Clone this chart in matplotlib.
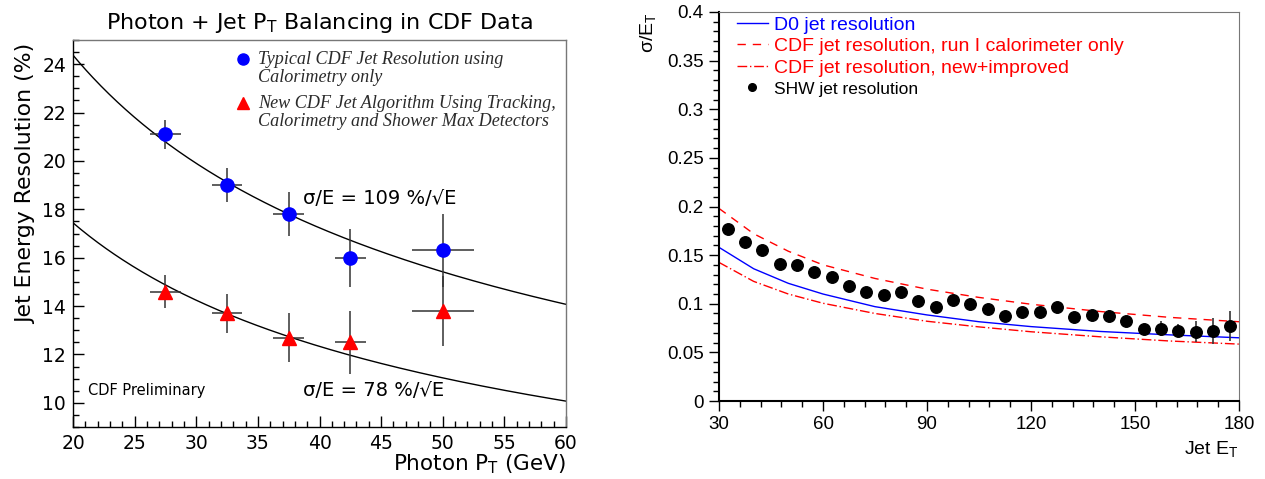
import numpy as np
import matplotlib
matplotlib.use("Agg")
import matplotlib.pyplot as plt
from matplotlib.ticker import MultipleLocator, FormatStrFormatter

# --- left panel: photon + jet balancing ---
pt_bins = [27.5, 32.5, 37.5, 42.5, 50.0]
pt_halfwidth = [1.25, 1.25, 1.25, 1.25, 2.5]
calo_res = [21.1, 19.0, 17.8, 16.0, 16.3]
calo_err = [0.6, 0.7, 0.9, 1.2, 1.5]
track_res = [14.6, 13.7, 12.7, 12.5, 13.8]
track_err = [0.7, 0.8, 1.0, 1.3, 1.45]
fit_coeff = [109, 78]          # sigma/E = a %/sqrt(E), as written on the plot
fit_range = [20, 60]

# --- right panel: jet resolution vs jet ET ---
curve_et = [30, 40, 50, 60, 75, 90, 105, 120, 140, 160, 180]
d0_res = [0.158, 0.136, 0.121, 0.110, 0.097, 0.0885, 0.0815, 0.0765, 0.0715, 0.068, 0.065]
cdf_run1_res = [0.198, 0.172, 0.154, 0.140, 0.126, 0.115, 0.1065, 0.0995, 0.092, 0.086, 0.0815]
cdf_new_res = [0.1425, 0.123, 0.110, 0.1005, 0.090, 0.082, 0.0762, 0.0712, 0.066, 0.0617, 0.0585]

shw_et = [32.5, 37.5, 42.5, 47.5, 52.5, 57.5, 62.5, 67.5, 72.5, 77.5,
          82.5, 87.5, 92.5, 97.5, 102.5, 107.5, 112.5, 117.5, 122.5, 127.5,
          132.5, 137.5, 142.5, 147.5, 152.5, 157.5, 162.5, 167.5, 172.5, 177.5]
shw_res = [0.177, 0.163, 0.155, 0.1405, 0.1395, 0.133, 0.127, 0.118, 0.112, 0.109,
           0.112, 0.1025, 0.097, 0.104, 0.100, 0.0946, 0.0877, 0.0912, 0.0912, 0.0967,
           0.0867, 0.0884, 0.0874, 0.0826, 0.0744, 0.0744, 0.0723, 0.0713, 0.0723, 0.0775]
shw_err = [0.003, 0.003, 0.003, 0.003, 0.003, 0.003, 0.003, 0.003, 0.003, 0.003,
           0.003, 0.003, 0.003, 0.003, 0.003, 0.003, 0.003, 0.003, 0.003, 0.004,
           0.004, 0.004, 0.006, 0.005, 0.005, 0.008, 0.0067, 0.011, 0.0132, 0.0154]

W, H = 1265, 479
fig = plt.figure(figsize=(W / 100, H / 100), dpi=100)
ax1 = fig.add_axes([73 / W, 1 - 427 / H, 493 / W, 387 / H])
ax2 = fig.add_axes([719 / W, 1 - 401 / H, 520 / W, 389 / H])

# ================= LEFT =================
sans = "DejaVu Sans"
serif = "Liberation Serif"

ax1.errorbar(pt_bins, calo_res, xerr=pt_halfwidth, yerr=calo_err, fmt="none",
             ecolor="#333333", elinewidth=1.1, capsize=0, zorder=2)
ax1.errorbar(pt_bins, track_res, xerr=pt_halfwidth, yerr=track_err, fmt="none",
             ecolor="#333333", elinewidth=1.1, capsize=0, zorder=2)
ax1.plot(pt_bins, calo_res, "o", color="#0000ff", markersize=9.5, zorder=3)
ax1.plot(pt_bins, track_res, "^", color="#ff0000", markersize=9.5, zorder=3)

pt_fine = np.linspace(fit_range[0], fit_range[1], 300)
for a in fit_coeff:
    ax1.plot(pt_fine, a / np.sqrt(pt_fine), color="black", lw=1.0, zorder=1)

ax1.set_xlim(20, 60)
ax1.set_ylim(9, 25)
ax1.xaxis.set_major_locator(MultipleLocator(5))
ax1.xaxis.set_minor_locator(MultipleLocator(1))
ax1.yaxis.set_major_locator(MultipleLocator(2))
ax1.yaxis.set_minor_locator(MultipleLocator(0.5))
ax1.tick_params(which="both", direction="in", top=False, right=False,
                labelsize=13.5, width=1.0)
ax1.tick_params(which="major", length=8, pad=5)
ax1.tick_params(which="minor", length=4)
for lab in ax1.get_xticklabels() + ax1.get_yticklabels():
    lab.set_family(sans)
for s in ["top", "right"]:
    ax1.spines[s].set_color("#777777")
for s in ax1.spines.values():
    s.set_linewidth(1.0)

ax1.set_title(r"Photon + Jet P$_\mathregular{T}$ Balancing in CDF Data",
              fontsize=16, family=sans, pad=8)
ax1.set_xlabel(r"Photon P$_\mathregular{T}$ (GeV)", fontsize=15.5, family=sans,
               ha="right")
ax1.xaxis.set_label_coords(1.0, -0.066)
ax1.set_ylabel("Jet Energy Resolution (%)", fontsize=15.8, family=sans, ha="right")
ax1.yaxis.set_label_coords(-0.075, 0.99)

# legend (ROOT style: symbol next to the first line of text)
leg_x, leg_sym_x = 0.375, 0.345
leg_font = dict(transform=ax1.transAxes, family=serif, style="italic",
                fontsize=13.1, va="top", ha="left", linespacing=1.1,
                color="#2a2a2a")
ax1.plot([leg_sym_x], [0.951], "o", color="#0000ff", markersize=8,
         transform=ax1.transAxes, clip_on=False)
ax1.text(leg_x, 0.972, "Typical CDF Jet Resolution using\nCalorimetry only",
         **leg_font)
ax1.plot([leg_sym_x], [0.837], "^", color="#ff0000", markersize=8,
         transform=ax1.transAxes, clip_on=False)
ax1.text(leg_x, 0.858,
         "New CDF Jet Algorithm Using Tracking,\nCalorimetry and Shower Max Detectors",
         **leg_font)

ax1.text(38.7, 18.45, "σ/E = 109 %/√E", fontsize=14, family=sans, va="center")
ax1.text(38.7, 10.5, "σ/E = 78 %/√E", fontsize=14, family=sans, va="center")
ax1.text(21.2, 10.5, "CDF Preliminary", fontsize=10.5, family=sans, va="center")

# ================= RIGHT =================
helv = ["Liberation Sans Narrow", "Liberation Sans"]

l_d0, = ax2.plot(curve_et, d0_res, color="#0000ff", lw=1.0)
l_run1, = ax2.plot(curve_et, cdf_run1_res, color="#ff0000", lw=1.0,
                   dashes=(6, 5))
l_new, = ax2.plot(curve_et, cdf_new_res, color="#ff0000", lw=1.0,
                  dashes=(7, 2, 1, 2))
ax2.errorbar(shw_et, shw_res, yerr=shw_err, fmt="o", color="black",
             markersize=8.3, ecolor="#333333", elinewidth=1.2, capsize=0)
l_shw, = ax2.plot([], [], "o", color="black", markersize=5.5)

ax2.set_xlim(30, 180)
ax2.set_ylim(0, 0.4)
ax2.xaxis.set_major_locator(MultipleLocator(30))
ax2.xaxis.set_minor_locator(MultipleLocator(6))
ax2.yaxis.set_major_locator(MultipleLocator(0.05))
ax2.yaxis.set_minor_locator(MultipleLocator(0.01))
ax2.yaxis.set_major_formatter(FormatStrFormatter("%g"))
ax2.tick_params(which="both", direction="out", top=False, right=False,
                labelsize=13.5, width=1.0)
ax2.tick_params(which="major", length=7, pad=4)
ax2.tick_params(which="minor", length=4)
for lab in ax2.get_xticklabels() + ax2.get_yticklabels():
    lab.set_family("Liberation Sans")
for s in ["top", "right"]:
    ax2.spines[s].set_color("#777777")
ax2.spines["left"].set_linewidth(1.5)
ax2.spines["bottom"].set_linewidth(1.5)

ax2.set_xlabel(r"Jet E$_\mathregular{T}$", fontsize=14, family="Liberation Sans",
               ha="right")
ax2.xaxis.set_label_coords(1.0, -0.1)
ax2.set_ylabel(r"σ/E$_\mathregular{T}$", fontsize=14, family="Liberation Sans",
               ha="right")
ax2.yaxis.set_label_coords(-0.115, 1.0)

leg = ax2.legend([l_d0, l_run1, l_new, l_shw],
                 ["D0 jet resolution", "CDF jet resolution, run I calorimeter only",
                  "CDF jet resolution, new+improved", "SHW jet resolution"],
                 loc="upper left", bbox_to_anchor=(0.034, 0.99), frameon=False,
                 borderpad=0, borderaxespad=0, handlelength=1.6,
                 handletextpad=0.3, labelspacing=0.2,
                 prop={"family": helv, "size": 14})
colors = ["#0000ff", "#ff0000", "#ff0000", "black"]
for t, c in zip(leg.get_texts(), colors):
    t.set_color(c)
leg.get_texts()[3].set_fontsize(12.5)

fig.savefig("out.png", dpi=100)
